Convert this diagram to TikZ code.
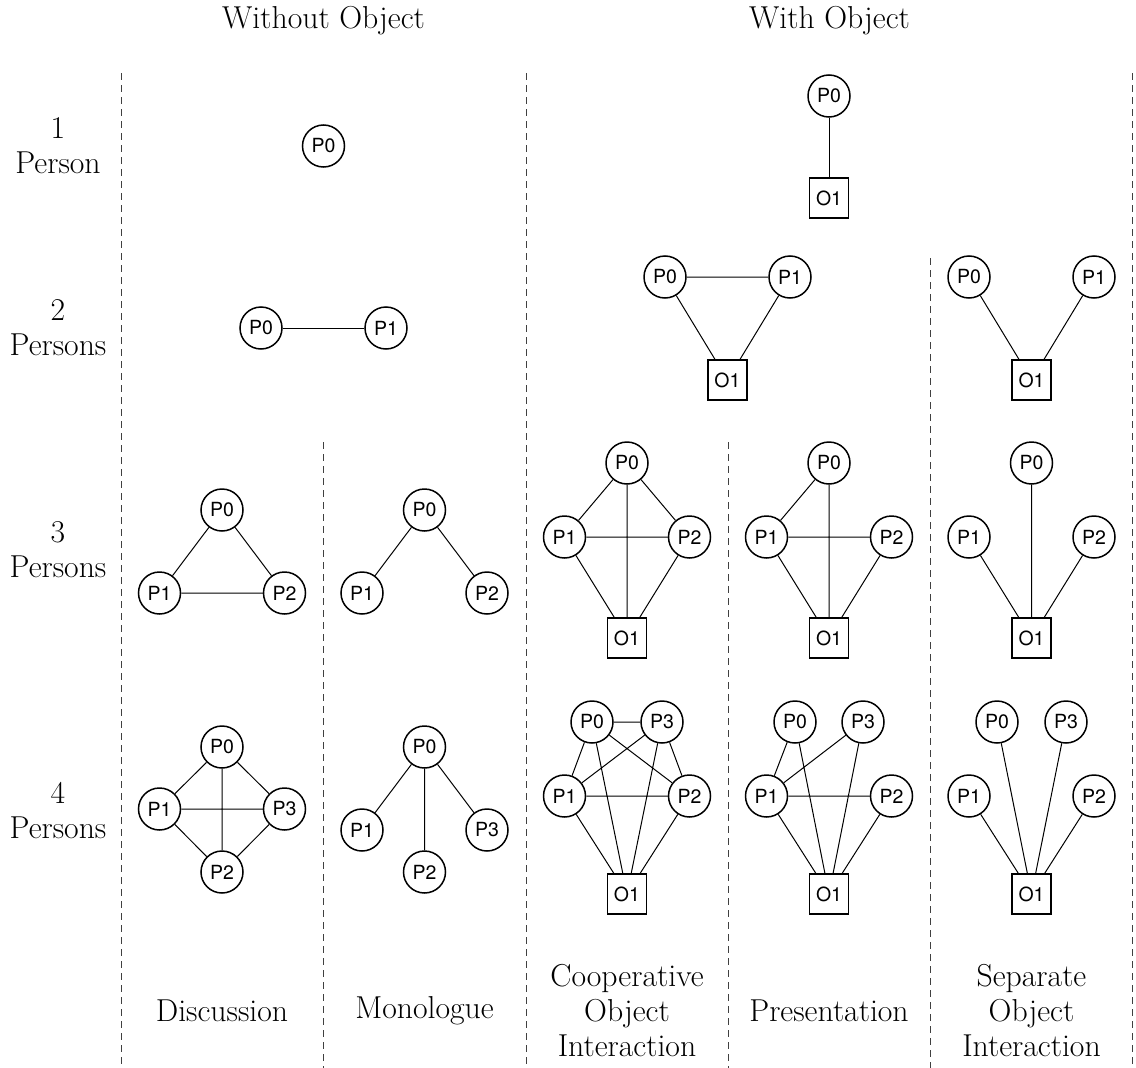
\documentclass[tikz,border=0pt]{standalone}
\usepackage{fontspec}
\setsansfont{TeX Gyre Heros}
\begin{document}
\begin{tikzpicture}[x=1pt,y=-1pt,
  person/.style={circle,draw,line width=1.5pt,minimum size=42pt,inner sep=0pt,
    font=\sffamily\fontsize{19.5}{22}\selectfont},
  thing/.style={rectangle,draw,line width=1.5pt,minimum width=39pt,minimum height=40pt,
    inner sep=0pt,font=\sffamily\fontsize{19.5}{22}\selectfont},
  link/.style={line width=1pt},
  divider/.style={line width=1pt,black!75,dash pattern=on 7.2pt off 4.8pt},
  lbl/.style={font=\fontsize{31.7}{35}\selectfont,align=center},
]
\useasboundingbox (0,0) rectangle (1136,1068);

% column dividers
\draw[divider] (121.5,73) -- (121.5,1068);
\draw[divider] (526.5,73) -- (526.5,1068);
\draw[divider] (1132.5,73) -- (1132.5,1068);
\draw[divider] (323.5,442) -- (323.5,1068);
\draw[divider] (728.5,442) -- (728.5,1068);
\draw[divider] (930.5,258) -- (930.5,1068);

% headers
\node[lbl,anchor=base] (hwithout) at (323.5,28) {Without Object};
\node[lbl,anchor=base] (hwith) at (829.5,28) {With Object};

% row labels
\node[lbl] (row1) at (58,146) {1\\Person};
\node[lbl] (row2) at (58,328) {2\\Persons};
\node[lbl] (row3) at (58,550) {3\\Persons};
\node[lbl] (row4) at (58,811) {4\\Persons};

% column labels
\node[lbl] (cdisc) at (222,1011) {Discussion};
\node[lbl] (cmono) at (424.5,1011) {Monologue};
\node[lbl] (ccoop) at (627,1011) {Cooperative\\Object\\Interaction};
\node[lbl] (cpres) at (829,1011) {Presentation};
\node[lbl] (csep) at (1031.5,1011) {Separate\\Object\\Interaction};

% ---- 1 person ----
\node[person] (aP0) at (323.5,146) {P0};
\node[person] (bP0) at (829,96) {P0};
\node[thing] (bO1) at (829,198) {O1};
\draw[link] (bP0) -- (bO1);

% ---- 2 persons ----
\node[person] (cP0) at (261,328) {P0};
\node[person] (cP1) at (386,328) {P1};
\draw[link] (cP0) -- (cP1);

\node[person] (dP0) at (665,277) {P0};
\node[person] (dP1) at (790,277) {P1};
\node[thing] (dO1) at (727.5,380) {O1};
\draw[link] (dP0) -- (dP1) (dP0) -- (dO1) (dP1) -- (dO1);

\node[person] (eP0) at (969,277) {P0};
\node[person] (eP1) at (1094,277) {P1};
\node[thing] (eO1) at (1031.5,380) {O1};
\draw[link] (eP0) -- (eO1) (eP1) -- (eO1);

% ---- 3 persons ----
% discussion
\node[person] (fP0) at (222,510) {P0};
\node[person] (fP1) at (159.5,593) {P1};
\node[person] (fP2) at (284.5,593) {P2};
\draw[link] (fP0) -- (fP1) (fP0) -- (fP2) (fP1) -- (fP2);
% monologue
\node[person] (gP0) at (424.5,510) {P0};
\node[person] (gP1) at (362,593) {P1};
\node[person] (gP2) at (487,593) {P2};
\draw[link] (gP0) -- (gP1) (gP0) -- (gP2);
% cooperative
\node[person] (hP0) at (627,463) {P0};
\node[person] (hP1) at (564.5,537) {P1};
\node[person] (hP2) at (689.5,537) {P2};
\node[thing] (hO1) at (627,638) {O1};
\draw[link] (hP0) -- (hP1) (hP0) -- (hP2) (hP1) -- (hP2)
  (hP0) -- (hO1) (hP1) -- (hO1) (hP2) -- (hO1);
% presentation
\node[person] (iP0) at (829,463) {P0};
\node[person] (iP1) at (766.5,537) {P1};
\node[person] (iP2) at (891.5,537) {P2};
\node[thing] (iO1) at (829,638) {O1};
\draw[link] (iP0) -- (iP1) (iP1) -- (iP2)
  (iP0) -- (iO1) (iP1) -- (iO1) (iP2) -- (iO1);
% separate
\node[person] (jP0) at (1031.5,463) {P0};
\node[person] (jP1) at (969,537) {P1};
\node[person] (jP2) at (1094,537) {P2};
\node[thing] (jO1) at (1031.5,638) {O1};
\draw[link] (jP0) -- (jO1) (jP1) -- (jO1) (jP2) -- (jO1);

% ---- 4 persons ----
% discussion
\node[person] (kP0) at (222,747) {P0};
\node[person] (kP1) at (159.5,809) {P1};
\node[person] (kP3) at (284.5,809) {P3};
\node[person] (kP2) at (222,872) {P2};
\draw[link] (kP0) -- (kP1) (kP0) -- (kP3) (kP1) -- (kP2) (kP3) -- (kP2)
  (kP1) -- (kP3) (kP0) -- (kP2);
% monologue
\node[person] (lP0) at (424.5,747) {P0};
\node[person] (lP1) at (362,830) {P1};
\node[person] (lP3) at (487,830) {P3};
\node[person] (lP2) at (424.5,872) {P2};
\draw[link] (lP0) -- (lP1) (lP0) -- (lP3) (lP0) -- (lP2);
% cooperative
\node[person] (mP0) at (592,722) {P0};
\node[person] (mP3) at (662,722) {P3};
\node[person] (mP1) at (564.5,796) {P1};
\node[person] (mP2) at (689.5,796) {P2};
\node[thing] (mO1) at (627,894) {O1};
\draw[link] (mP0) -- (mP3) (mP0) -- (mP1) (mP0) -- (mP2) (mP3) -- (mP1)
  (mP3) -- (mP2) (mP1) -- (mP2)
  (mP0) -- (mO1) (mP1) -- (mO1) (mP2) -- (mO1) (mP3) -- (mO1);
% presentation
\node[person] (nP0) at (795,722) {P0};
\node[person] (nP3) at (863,722) {P3};
\node[person] (nP1) at (766.5,796) {P1};
\node[person] (nP2) at (891.5,796) {P2};
\node[thing] (nO1) at (829,894) {O1};
\draw[link] (nP1) -- (nP0) (nP1) -- (nP3) (nP1) -- (nP2)
  (nP0) -- (nO1) (nP1) -- (nO1) (nP2) -- (nO1) (nP3) -- (nO1);
% separate
\node[person] (oP0) at (997,722) {P0};
\node[person] (oP3) at (1066,722) {P3};
\node[person] (oP1) at (969,796) {P1};
\node[person] (oP2) at (1094,796) {P2};
\node[thing] (oO1) at (1031.5,894) {O1};
\draw[link] (oP0) -- (oO1) (oP1) -- (oO1) (oP2) -- (oO1) (oP3) -- (oO1);
\end{tikzpicture}
\end{document}
